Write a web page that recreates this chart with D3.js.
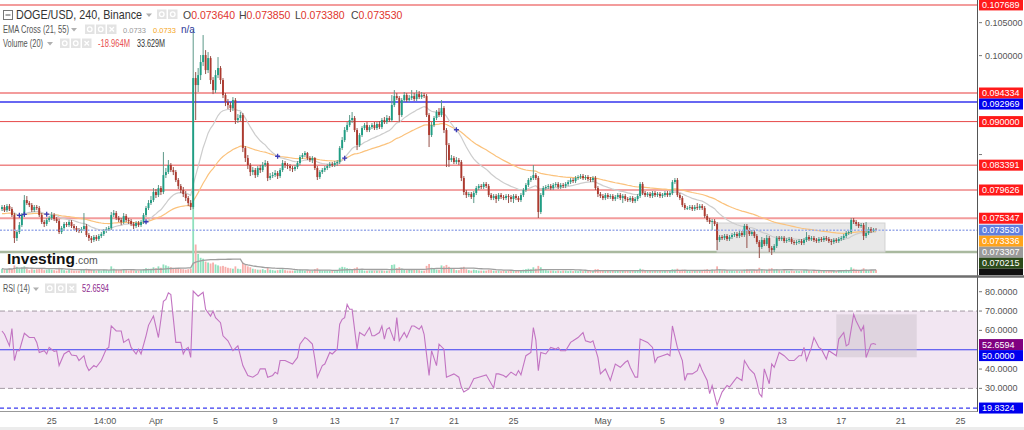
<!DOCTYPE html>
<html><head><meta charset="utf-8">
<script src="https://cdn.jsdelivr.net/npm/d3@7"></script>
<style>
html,body{margin:0;padding:0;background:#fff;}
svg{display:block;font-family:"Liberation Sans",Arial,sans-serif;}
</style></head>
<body><svg id="chart" width="1024" height="430"></svg>
<script>
// ---------------- DATA (DOGE/USD 4h, Binance) ----------------
const candleStart = Date.UTC(2023, 2, 21, 16); // first candle
const candleHours = 4;
const opens = [
.07674,.07704,.07659,.07719,.07674,.07583,.07234,.07325,.07431,.07583,
.07810,.07765,.07735,.07659,.07704,.07689,.07583,.07477,.07447,.07507,
.07538,.07583,.07522,.07492,.07325,.07386,.07447,.07431,.07477,.07416,
.07386,.07356,.07341,.07371,.07416,.07280,.07234,.07204,.07250,.07219,
.07265,.07295,.07341,.07371,.07386,.07583,.07613,.07538,.07507,.07477,
.07568,.07507,.07492,.07447,.07416,.07462,.07431,.07477,.07583,.07689,
.07765,.07810,.07932,.07886,.07992,.07932,.08189,.08235,.08341,.08265,
.08235,.08114,.08023,.07962,.07901,.07841,.07765,.07704,.09660,.09554,
.09705,.09903,.10009,.09781,.09963,.09630,.09478,.09705,.09812,.09630,
.09402,.09296,.09251,.09205,.09326,.09023,.09054,.09099,.08599,.08447,
.08341,.08235,.08265,.08189,.08296,.08265,.08341,.08371,.08144,.08174,
.08189,.08220,.08174,.08265,.08371,.08341,.08326,.08296,.08280,.08311,
.08371,.08462,.08493,.08523,.08447,.08417,.08447,.08296,.08159,.08235,
.08265,.08296,.08326,.08356,.08341,.08371,.08387,.08599,.08720,.08872,
.08947,.09023,.09054,.08872,.08644,.08796,.08902,.08947,.08872,.08917,
.08947,.08902,.08963,.08917,.09023,.08993,.09054,.09023,.09251,.09387,
.09357,.09099,.09326,.09402,.09326,.09357,.09387,.09342,.09417,.09372,
.09402,.09387,.09099,.08796,.08947,.09054,.09145,.09099,.09205,.08872,
.08644,.08417,.08447,.08387,.08417,.08387,.08144,.07932,.07886,.07901,
.07856,.07917,.07992,.08023,.08008,.08053,.08023,.07886,.07841,.07871,
.07826,.07886,.07856,.07841,.07871,.07856,.07826,.07871,.07841,.07810,
.07886,.07962,.08038,.08114,.08144,.08189,.08144,.07629,.07886,.07992,
.08008,.08023,.07992,.08038,.08053,.08008,.08038,.08023,.08053,.08083,
.08114,.08098,.08144,.08159,.08174,.08144,.08159,.08129,.08114,.08144,
.07992,.07901,.07871,.07841,.07886,.07856,.07871,.07826,.07856,.07886,
.07841,.07871,.07826,.07810,.07841,.07795,.07826,.07871,.08053,.07917,
.07886,.07901,.07871,.07917,.07886,.07901,.07871,.07886,.07917,.07886,
.07917,.08083,.08114,.07886,.07841,.07735,.07689,.07689,.07704,.07674,
.07704,.07689,.07719,.07689,.07568,.07507,.07477,.07492,.07447,.07204,
.07250,.07234,.07265,.07219,.07250,.07280,.07295,.07265,.07310,.07280,
.07416,.07356,.07295,.07325,.07265,.07174,.07098,.07204,.07143,.07234,
.07083,.07052,.07113,.07234,.07219,.07234,.07189,.07204,.07219,.07174,
.07159,.07174,.07189,.07159,.07204,.07250,.07219,.07234,.07204,.07189,
.07219,.07204,.07234,.07219,.07189,.07174,.07204,.07189,.07219,.07234,
.07265,.07310,.07325,.07507,.07477,.07447,.07416,.07431,.07265,.07310,
.07371,.07341,.07364];
const highs = [
.07735,.07735,.07750,.07750,.07704,.07613,.07356,.07477,.07613,.07886,
.07871,.07795,.07765,.07735,.07735,.07719,.07613,.07507,.07538,.07568,
.07629,.07613,.07553,.07522,.07416,.07477,.07477,.07507,.07507,.07447,
.07416,.07386,.07401,.07613,.07447,.07310,.07265,.07280,.07280,.07295,
.07325,.07371,.07401,.07416,.07629,.07659,.07644,.07568,.07538,.07613,
.07598,.07538,.07522,.07477,.07492,.07492,.07507,.07613,.07719,.07810,
.07871,.07992,.07977,.08038,.08023,.08538,.08296,.08417,.08371,.08311,
.08265,.08144,.08053,.08008,.07947,.07871,.07810,.10388,.09751,.09812,
.10009,.10312,.10084,.10054,.09993,.09675,.09781,.09978,.09842,.09660,
.09433,.09342,.09296,.09372,.09357,.09114,.09145,.09129,.08629,.08493,
.08371,.08311,.08296,.08326,.08341,.08387,.08417,.08402,.08220,.08235,
.08265,.08250,.08296,.08417,.08402,.08371,.08356,.08326,.08341,.08402,
.08493,.08523,.08553,.08538,.08477,.08477,.08462,.08326,.08265,.08296,
.08326,.08356,.08387,.08387,.08402,.08417,.08629,.08766,.08917,.08993,
.09099,.09145,.09084,.08902,.08826,.08932,.08978,.08993,.08947,.08978,
.08993,.08993,.09008,.09054,.09069,.09099,.09084,.09402,.09478,.09433,
.09387,.09357,.09448,.09433,.09402,.09478,.09433,.09478,.09463,.09448,
.09433,.09417,.09129,.08993,.09084,.09175,.09205,.09326,.09235,.08902,
.08675,.08493,.08477,.08462,.08447,.08417,.08174,.07962,.07932,.07932,
.07947,.08023,.08053,.08053,.08083,.08083,.08053,.07917,.07901,.07901,
.07917,.07917,.07886,.07901,.07901,.07886,.07901,.07901,.07871,.07917,
.07992,.08068,.08144,.08174,.08341,.08220,.08174,.07917,.08023,.08038,
.08053,.08053,.08068,.08083,.08083,.08068,.08068,.08083,.08114,.08144,
.08144,.08174,.08189,.08205,.08205,.08189,.08189,.08159,.08174,.08174,
.08023,.07932,.07901,.07917,.07917,.07901,.07901,.07886,.07917,.07917,
.07901,.07901,.07856,.07871,.07871,.07856,.07901,.08083,.08083,.07947,
.07932,.07932,.07947,.07947,.07932,.07932,.07917,.07947,.07947,.07947,
.08114,.08144,.08144,.07917,.07871,.07765,.07719,.07735,.07735,.07735,
.07765,.07750,.07750,.07719,.07598,.07538,.07522,.07522,.07477,.07280,
.07280,.07295,.07295,.07280,.07310,.07325,.07325,.07341,.07341,.07447,
.07447,.07386,.07356,.07356,.07295,.07204,.07250,.07234,.07280,.07265,
.07113,.07143,.07265,.07265,.07265,.07265,.07234,.07250,.07250,.07204,
.07204,.07219,.07219,.07234,.07325,.07280,.07265,.07265,.07234,.07250,
.07250,.07265,.07265,.07250,.07219,.07234,.07234,.07250,.07265,.07295,
.07341,.07356,.07538,.07538,.07507,.07477,.07462,.07462,.07477,.07401,
.07401,.07386,.07385];
const lows = [
.07644,.07629,.07629,.07644,.07553,.07159,.07189,.07295,.07401,.07553,
.07735,.07704,.07629,.07629,.07659,.07553,.07447,.07401,.07416,.07477,
.07507,.07492,.07462,.07295,.07295,.07356,.07401,.07401,.07386,.07356,
.07325,.07310,.07310,.07341,.07250,.07189,.07159,.07174,.07189,.07189,
.07234,.07265,.07310,.07341,.07356,.07553,.07507,.07477,.07431,.07447,
.07477,.07447,.07416,.07371,.07386,.07401,.07401,.07447,.07553,.07659,
.07735,.07780,.07841,.07856,.07886,.07901,.08144,.08205,.08235,.08189,
.08083,.07977,.07917,.07856,.07795,.07719,.07659,.07674,.09023,.09448,
.09630,.09842,.09721,.09736,.09569,.09417,.09433,.09660,.09569,.09357,
.09235,.09190,.09145,.09160,.08963,.08978,.09008,.08538,.08387,.08280,
.08174,.08189,.08144,.08159,.08220,.08235,.08311,.08098,.08114,.08144,
.08159,.08129,.08144,.08235,.08296,.08280,.08250,.08235,.08250,.08280,
.08341,.08432,.08462,.08417,.08387,.08371,.08265,.08114,.08129,.08205,
.08235,.08265,.08296,.08311,.08311,.08326,.08356,.08568,.08690,.08841,
.08917,.08978,.08841,.08568,.08614,.08766,.08872,.08841,.08841,.08887,
.08872,.08872,.08887,.08887,.08963,.08963,.08993,.08993,.09220,.09326,
.08993,.09069,.09296,.09296,.09296,.09326,.09311,.09311,.09342,.09342,
.09357,.09069,.08614,.08766,.08917,.09023,.09069,.09069,.08826,.08311,
.08311,.08387,.08356,.08356,.08341,.08098,.07886,.07841,.07856,.07826,
.07765,.07886,.07962,.07977,.07977,.07992,.07856,.07810,.07810,.07765,
.07795,.07826,.07810,.07810,.07765,.07780,.07765,.07810,.07780,.07780,
.07856,.07932,.08008,.08083,.08114,.08114,.07538,.07598,.07856,.07962,
.07977,.07962,.07962,.08008,.07977,.07977,.07992,.07992,.08023,.08053,
.08068,.08068,.08114,.08129,.08114,.08114,.08098,.08083,.08083,.07962,
.07856,.07841,.07810,.07810,.07826,.07826,.07795,.07795,.07826,.07810,
.07765,.07795,.07780,.07780,.07765,.07765,.07795,.07841,.07886,.07856,
.07856,.07841,.07841,.07856,.07856,.07841,.07841,.07856,.07856,.07856,
.07886,.08053,.07856,.07810,.07704,.07659,.07659,.07659,.07644,.07644,
.07659,.07659,.07659,.07538,.07477,.07447,.07356,.07416,.07052,.07174,
.07204,.07204,.07189,.07189,.07219,.07250,.07234,.07234,.07250,.07250,
.07083,.07265,.07265,.07234,.07143,.06931,.07068,.07113,.07113,.07022,
.06977,.07022,.07083,.07189,.07189,.07159,.07159,.07174,.07143,.07128,
.07128,.07143,.07128,.07128,.07174,.07189,.07189,.07174,.07159,.07159,
.07174,.07174,.07189,.07159,.07128,.07143,.07159,.07159,.07189,.07204,
.07234,.07280,.07295,.07447,.07416,.07386,.07386,.07204,.07234,.07280,
.07310,.07325,.07338];
const closes = [
.07704,.07659,.07719,.07674,.07583,.07234,.07325,.07431,.07583,.07810,
.07765,.07735,.07659,.07704,.07689,.07583,.07477,.07447,.07507,.07538,
.07583,.07522,.07492,.07325,.07386,.07447,.07431,.07477,.07416,.07386,
.07356,.07341,.07371,.07416,.07280,.07234,.07204,.07250,.07219,.07265,
.07295,.07341,.07371,.07386,.07583,.07613,.07538,.07507,.07477,.07568,
.07507,.07492,.07447,.07416,.07462,.07431,.07477,.07583,.07689,.07765,
.07810,.07932,.07886,.07992,.07932,.08189,.08235,.08341,.08265,.08235,
.08114,.08023,.07962,.07901,.07841,.07765,.07704,.09660,.09554,.09705,
.09903,.10009,.09781,.09963,.09630,.09478,.09705,.09812,.09630,.09402,
.09296,.09251,.09205,.09326,.09023,.09054,.09099,.08599,.08447,.08341,
.08235,.08265,.08189,.08296,.08265,.08341,.08371,.08144,.08174,.08189,
.08220,.08174,.08265,.08371,.08341,.08326,.08296,.08280,.08311,.08371,
.08462,.08493,.08523,.08447,.08417,.08447,.08296,.08159,.08235,.08265,
.08296,.08326,.08356,.08341,.08371,.08387,.08599,.08720,.08872,.08947,
.09023,.09054,.08872,.08644,.08796,.08902,.08947,.08872,.08917,.08947,
.08902,.08963,.08917,.09023,.08993,.09054,.09023,.09251,.09387,.09357,
.09099,.09326,.09402,.09326,.09357,.09387,.09342,.09417,.09372,.09402,
.09387,.09099,.08796,.08947,.09054,.09145,.09099,.09205,.08872,.08644,
.08417,.08447,.08387,.08417,.08387,.08144,.07932,.07886,.07901,.07856,
.07917,.07992,.08023,.08008,.08053,.08023,.07886,.07841,.07871,.07826,
.07886,.07856,.07841,.07871,.07856,.07826,.07871,.07841,.07810,.07886,
.07962,.08038,.08114,.08144,.08189,.08144,.07629,.07886,.07992,.08008,
.08023,.07992,.08038,.08053,.08008,.08038,.08023,.08053,.08083,.08114,
.08098,.08144,.08159,.08174,.08144,.08159,.08129,.08114,.08144,.07992,
.07901,.07871,.07841,.07886,.07856,.07871,.07826,.07856,.07886,.07841,
.07871,.07826,.07810,.07841,.07795,.07826,.07871,.08053,.07917,.07886,
.07901,.07871,.07917,.07886,.07901,.07871,.07886,.07917,.07886,.07917,
.08083,.08114,.07886,.07841,.07735,.07689,.07689,.07704,.07674,.07704,
.07689,.07719,.07689,.07568,.07507,.07477,.07492,.07447,.07204,.07250,
.07234,.07265,.07219,.07250,.07280,.07295,.07265,.07310,.07280,.07416,
.07356,.07295,.07325,.07265,.07174,.07098,.07204,.07143,.07234,.07083,
.07052,.07113,.07234,.07219,.07234,.07189,.07204,.07219,.07174,.07159,
.07174,.07189,.07159,.07204,.07250,.07219,.07234,.07204,.07189,.07219,
.07204,.07234,.07219,.07189,.07174,.07204,.07189,.07219,.07234,.07265,
.07310,.07325,.07507,.07477,.07447,.07416,.07431,.07265,.07310,.07371,
.07341,.07364,.07353];
const volumesM = [
45,35,40,50,40,80,65,50,60,70, 45,30,40,35,40,50,45,30,35,40,
35,30,25,55,40,30,25,35,30,25, 25,25,30,40,45,35,35,30,25,30,
25,35,30,25,70,45,35,30,35,40, 30,25,30,25,25,25,30,40,50,45,
45,60,50,70,55,90,80,70,60,50, 55,50,45,40,35,40,45,1000,300,200,
160,150,120,110,100,110,90,80,70,75, 65,55,50,45,70,45,40,110,90,70,
60,45,40,35,35,40,30,55,35,30, 25,30,35,40,30,25,25,25,25,30,
35,30,25,25,25,25,40,50,30,25, 25,25,25,25,20,25,55,65,60,50,
45,40,50,60,40,30,25,25,25,25, 25,25,25,25,25,25,25,85,90,50,
60,45,40,30,35,30,40,35,30,25, 25,75,95,55,45,35,35,80,70,85,
65,45,40,30,30,55,65,40,30,25, 35,30,25,25,25,25,35,30,25,25,
25,20,25,20,25,20,25,20,25,25, 35,40,45,40,60,45,75,60,40,30,
25,25,25,20,25,20,25,25,20,25, 20,25,20,25,20,25,20,25,20,40,
40,30,25,20,25,20,25,20,25,20, 25,20,25,20,25,20,30,45,35,25,
20,25,20,25,20,25,20,25,20,25, 40,35,45,30,35,30,25,20,25,20,
25,20,25,35,40,30,35,30,70,40, 30,25,30,25,25,20,25,20,25,35,
40,30,25,30,35,55,40,30,35,45, 50,35,40,30,25,30,25,20,25,20,
25,20,25,30,30,25,20,25,20,25, 20,25,20,25,20,25,20,25,30,30,
35,30,60,45,35,30,30,50,35,30, 30,25,33.6];
// RSI(14): [candle index, value]
const rsiPoints = [
[0,59.7],[1,58],[3,52],[4,61],[5,44.4],[6,49.5],[7,49.5],[9,58.5],[11,56.3],[13,56.3],
[14,53.8],[15,48.6],[17,49.5],[18,47.8],[19,51.2],[21,49.1],[22,49.5],[23,41.8],[25,47.8],[27,49.5],
[28,47.3],[30,46.9],[31,44.4],[33,46.9],[34,41.8],[35,39.2],[37,41.8],[38,41],[40,44.4],[42,50.3],
[43,51.2],[44,62.3],[46,59.7],[48,59.7],[49,53.8],[51,55.5],[52,51.2],[54,47.8],[55,50.3],[56,47.8],
[58,57.2],[59,62.6],[61,67.4],[63,56.3],[65,75.1],[66,76],[67,79.4],[68,78.5],[70,53.8],[72,53.8],
[73,47.8],[74,50.3],[75,51.2],[76,46],[77,80.3],[79,77.7],[81,79.7],[82,70.9],[84,67.4],[85,70],
[86,66.6],[88,64],[89,57.2],[91,54.6],[93,49.5],[95,52],[97,41.8],[99,36.7],[101,35.8],[103,37.5],
[104,40.1],[106,40.1],[107,35.8],[109,36.7],[110,38.4],[111,37.5],[112,44.4],[114,44.4],[117,42.6],[119,46],
[120,52.9],[122,56.3],[123,55.5],[125,52.9],[126,45.2],[127,35.8],[129,41.8],[130,42.6],[132,48.6],[133,47.8],
[135,50.3],[136,63.2],[137,65.7],[138,66.6],[139,73.4],[140,70.9],[141,70.9],[143,50.3],[144,58.9],[146,57.2],
[148,61.5],[149,57.2],[150,57.2],[152,58.9],[153,62.3],[154,55.5],[155,60.6],[156,61.5],[158,54.6],[159,66.6],
[160,54.6],[162,58.9],[163,56.3],[165,62.3],[166,62.3],[168,60.6],[169,62.3],[170,58],[172,36.7],[173,49.5],
[175,41.8],[176,52.9],[178,50.3],[179,35.8],[182,37.5],[184,35.8],[185,30.7],[186,28.1],[188,29.7],[190,35],
[192,35.8],[195,37],[198,30.2],[199,37.5],[200,37.5],[202,36.7],[203,35.8],[205,38.4],[207,36.7],[208,39.2],
[209,37],[211,46.9],[213,48.6],[214,61.5],[215,55],[216,39.2],[217,48.6],[219,47.8],[221,51.2],[223,50.3],
[224,51.2],[225,49.5],[227,49.5],[229,53.8],[230,54.6],[232,56.3],[234,58.9],[235,54.6],[237,53.8],[238,54.6],
[240,46],[241,37.5],[243,40],[245,34.1],[247,42.6],[249,40.9],[251,43.5],[252,44.4],[253,40.9],[255,35.8],
[256,35.8],[257,55.5],[260,53.8],[262,51.2],[263,43.5],[264,46],[266,46.9],[268,47.8],[269,46.9],[270,62.3],
[272,51.2],[274,44.4],[275,34.1],[276,37.5],[278,37.5],[280,39.2],[281,42.6],[282,39.2],[284,34.1],[285,27.3],
[286,31.5],[288,21.3],[290,28.1],[292,31.5],[293,30.7],[295,34.1],[296,35.8],[298,34.1],[299,44.4],[301,40.1],
[303,37.5],[304,33.2],[305,27.3],[306,25.6],[307,40.1],[309,32.4],[310,42.6],[311,40.9],[313,48.6],[315,46.9],
[317,44.4],[319,44.4],[321,46.9],[322,46.9],[323,51.2],[324,44.4],[326,51.2],[327,56.3],[329,51.2],[330,50.3],
[332,45.2],[333,49.5],[335,47.8],[336,46.9],[337,55.5],[339,58.9],[340,52],[341,52.9],[343,68.3],[344,64.9],
[346,59.7],[347,62.3],[348,46],[350,52.9],[351,53.2],[352,52.66]];

const priceLevels = [0.107689, 0.094334, 0.092969, 0.090000, 0.083391, 0.079626, 0.075347, 0.070215];
const levelKinds  = ["soft", "soft", "blue", "red", "red", "red", "soft", "green"];
const lastPrice = 0.073530;
const emaLastValues = [0.073307, 0.073336]; // EMA21, EMA55 as shown
const emaSeeds = [0.0765, 0.0760];
const priceTicks = [0.105, 0.100, 0.095, 0.090, 0.085, 0.080, 0.075];
const rsiTicks = [80, 70, 60, 40, 30];
const rsiBandLevels = [70, 30];
const rsiMid = 50;
const rsiLast = 52.6594;
const rsiLowLevel = 19.8324;
const xTickTimes = [Date.UTC(2023,2,25), Date.UTC(2023,2,28,14), Date.UTC(2023,3,1), Date.UTC(2023,3,5),
  Date.UTC(2023,3,9), Date.UTC(2023,3,13), Date.UTC(2023,3,17), Date.UTC(2023,3,21), Date.UTC(2023,3,25),
  Date.UTC(2023,4,1), Date.UTC(2023,4,5), Date.UTC(2023,4,9), Date.UTC(2023,4,13), Date.UTC(2023,4,17),
  Date.UTC(2023,4,21), Date.UTC(2023,4,25)];
const xTickLabels = ["25","14:00","Apr","5","9","13","17","21","25","May","5","9","13","17","21","25"];
const priceBox = {from: 288, to: 355.6, top: 0.07462, bottom: 0.07022};
const rsiBox = {from: 336, to: 368.4, top: 68.3, bottom: 46.1};
const header = {symbol: "DOGE/USD, 240, Binance", o: "0.073640", h: "0.073850", l: "0.073380", c: "0.073530",
  ema: "EMA Cross (21, 55)", emaA: "0.0733", emaB: "0.0733", emaC: "n/a",
  vol: "Volume (20)", volA: "-18.964M", volB: "33.629M", rsi: "RSI (14)", rsiV: "52.6594"};

// ---------------- LAYOUT ----------------
const svg = d3.select("#chart");
const AX = 977;
const narrow = "'Liberation Sans Narrow','Arial Narrow','Liberation Sans',sans-serif";
const candleTime = i => new Date(candleStart + i * candleHours * 3600e3);
const x = d3.scaleTime().domain([new Date(candleStart), new Date(Date.UTC(2023,4,25))]).range([2, 2 + 386 * 2.483]);
const y = d3.scaleLinear().domain([0.066586, 0.108436]).range([276, 0]);
const yR = d3.scaleLinear().domain([18.3, 87.1]).range([411, 278]);
const yV = d3.scaleLinear().domain([0, 1000]).range([273, 178]);
const xi = i => x(candleTime(i));

const defs = svg.append("defs");
defs.append("clipPath").attr("id","cMain").append("rect").attr("x",0).attr("y",0).attr("width",AX).attr("height",275);
defs.append("clipPath").attr("id","cRsi").append("rect").attr("x",0).attr("y",279).attr("width",AX).attr("height",132);

const main = svg.append("g").attr("clip-path","url(#cMain)");

// price levels
const levelStyle = {soft:{c:"#f39c9c",w:2}, blue:{c:"#3434ee",w:1.4}, red:{c:"#e64848",w:1}, green:{c:"#a9b99f",w:2.5}};
main.selectAll("line.lvl").data(priceLevels).join("line")
  .attr("x1",0).attr("x2",AX).attr("y1",d=>y(d)).attr("y2",d=>y(d))
  .attr("stroke",(d,i)=>levelStyle[levelKinds[i]].c).attr("stroke-width",(d,i)=>levelStyle[levelKinds[i]].w);

// grey box
main.append("rect").attr("x",xi(priceBox.from)).attr("width",xi(priceBox.to)-xi(priceBox.from))
  .attr("y",y(priceBox.top)).attr("height",y(priceBox.bottom)-y(priceBox.top))
  .attr("fill","#e2e2e2").attr("fill-opacity",0.8).attr("stroke","#d2d2d2");

// volume
const idx = d3.range(closes.length);
main.selectAll("rect.vol").data(idx).join("rect")
  .attr("x",i=>xi(i)-0.9).attr("width",1.8)
  .attr("y",i=>yV(volumesM[i])).attr("height",i=>yV(0)-yV(volumesM[i]))
  .attr("fill",i=>closes[i]>=opens[i]?"#8fe0bd":"#f7aeab");
const volMA = idx.map(i=>d3.mean(volumesM.slice(Math.max(0,i-19),i+1)));
main.append("path").attr("d",d3.line().x(i=>xi(i)).y(i=>yV(volMA[i]))(idx))
  .attr("fill","none").attr("stroke","#a0a0a0").attr("stroke-width",1.3);

// EMAs
function ema(vals,n,seed){const k=2/(n+1);let e=seed;return vals.map(v=>(e=v*k+e*(1-k)));}
const e21 = ema(closes,21,emaSeeds[0]), e55 = ema(closes,55,emaSeeds[1]);
main.append("path").attr("d",d3.line().x(i=>xi(i)).y(i=>y(e55[i]))(idx)).attr("fill","none").attr("stroke","#fbc27c").attr("stroke-width",1.2);
main.append("path").attr("d",d3.line().x(i=>xi(i)).y(i=>y(e21[i]))(idx)).attr("fill","none").attr("stroke","#cdcdcd").attr("stroke-width",1.2);

// candles
const up = i => closes[i] >= opens[i];
main.selectAll("line.wick").data(idx).join("line")
  .attr("x1",i=>xi(i)).attr("x2",i=>xi(i)).attr("y1",i=>y(highs[i])).attr("y2",i=>y(lows[i]))
  .attr("stroke",i=>up(i)?"#5c9888":"#955049").attr("stroke-width",1);
main.selectAll("rect.body").data(idx).join("rect")
  .attr("x",i=>xi(i)-0.95).attr("width",1.9)
  .attr("y",i=>y(Math.max(opens[i],closes[i])))
  .attr("height",i=>Math.max(0.9,Math.abs(y(opens[i])-y(closes[i]))))
  .attr("fill",i=>up(i)?"#1f9e84":"#ad3a2f");

// EMA cross markers
const crosses = idx.filter(i=>i>0 && Math.sign(e21[i]-e55[i])!==Math.sign(e21[i-1]-e55[i-1]));
crosses.forEach(i=>{
  const cx=xi(i), cy=y((e21[i]+e55[i])/2);
  main.append("path").attr("d",`M${cx-2.5},${cy}H${cx+2.5}M${cx},${cy-2.5}V${cy+2.5}`).attr("stroke","#3a3ab8").attr("stroke-width",1.3);
});

// current price dotted line
main.append("line").attr("x1",0).attr("x2",AX).attr("y1",y(lastPrice)).attr("y2",y(lastPrice))
  .attr("stroke","#9cacea").attr("stroke-width",1.6).attr("stroke-dasharray","2,1.5");

// logo
const logo = svg.append("text").attr("x",7).attr("y",264);
logo.append("tspan").text("Investing").attr("font-weight","bold").attr("font-size",15.5).attr("fill","#111");
logo.append("tspan").text(".com").attr("font-size",10.5).attr("fill","#555");

// ---------------- HEADERS ----------------
function tri(g,x0,y0){g.append("path").attr("d",`M${x0},${y0}l6,0l-3,3.5z`).attr("fill","#b0b0b0");}
function icon(g,x0,y0,kind){
  g.append("rect").attr("x",x0).attr("y",y0).attr("width",9.5).attr("height",9.5).attr("fill","#e3e3e3");
  if(kind==="x") g.append("path").attr("d",`M${x0+2.5},${y0+2.5}l4.5,4.5M${x0+7},${y0+2.5}l-4.5,4.5`).attr("stroke","#fff").attr("stroke-width",1.3);
  else g.append("circle").attr("cx",x0+4.75).attr("cy",y0+4.75).attr("r",2.3).attr("fill","none").attr("stroke","#fff").attr("stroke-width",1.3);
}
const hd = svg.append("g");
hd.append("rect").attr("x",3.5).attr("y",10.5).attr("width",9).attr("height",9).attr("fill","#fff").attr("stroke","#777");
hd.append("line").attr("x1",5.5).attr("x2",10.5).attr("y1",15).attr("y2",15).attr("stroke","#555");
hd.append("text").attr("x",16).attr("y",19).attr("font-size",13.5).attr("fill","#333").attr("textLength",126).attr("lengthAdjust","spacingAndGlyphs").text(header.symbol);
tri(hd,146,13.5); icon(hd,157,9.5,"o"); icon(hd,168,9.5,"o");
[["O",header.o],["H",header.h],["L",header.l],["C",header.c]].forEach((p,k)=>{
  const t = hd.append("text").attr("x",183 + k*56).attr("y",19).attr("font-size",10.5);
  t.append("tspan").attr("fill","#444").text(p[0]);
  t.append("tspan").attr("fill","#e0342c").text(p[1]);
});
const L2 = 32.5, L3 = 46.5;
hd.append("text").attr("x",3).attr("y",L2).attr("font-size",10).attr("fill","#555").attr("textLength",66).attr("lengthAdjust","spacingAndGlyphs").text(header.ema);
tri(hd,71,L2-4.5); icon(hd,85,L2-8,"o"); icon(hd,96,L2-8,"o"); icon(hd,107,L2-8,"x");
hd.append("text").attr("x",123).attr("y",L2).attr("font-size",7.5).attr("fill","#999").text(header.emaA);
hd.append("text").attr("x",153).attr("y",L2).attr("font-size",7.5).attr("fill","#f5a623").text(header.emaB);
hd.append("text").attr("x",181).attr("y",L2).attr("font-size",10).attr("fill","#2e3a99").text(header.emaC);
hd.append("text").attr("x",3).attr("y",L3).attr("font-size",10).attr("fill","#555").attr("textLength",40).attr("lengthAdjust","spacingAndGlyphs").text(header.vol);
tri(hd,47,L3-4.5); icon(hd,60,L3-8,"o"); icon(hd,71,L3-8,"o"); icon(hd,82,L3-8,"x");
hd.append("text").attr("x",98).attr("y",L3).attr("font-size",10).attr("fill","#e85050").attr("textLength",32).attr("lengthAdjust","spacingAndGlyphs").text(header.volA);
hd.append("text").attr("x",137).attr("y",L3).attr("font-size",10).attr("fill","#333").attr("textLength",28).attr("lengthAdjust","spacingAndGlyphs").text(header.volB);

// ---------------- RSI PANE ----------------
const rp = svg.append("g").attr("clip-path","url(#cRsi)");
rp.append("rect").attr("x",0).attr("width",AX).attr("y",yR(rsiBandLevels[0])).attr("height",yR(rsiBandLevels[1])-yR(rsiBandLevels[0])).attr("fill","#f2e6f2");
rp.selectAll("line.band").data(rsiBandLevels).join("line").attr("x1",0).attr("x2",AX).attr("y1",d=>yR(d)).attr("y2",d=>yR(d))
  .attr("stroke","#a49aa4").attr("stroke-dasharray","5,3");
rp.append("line").attr("x1",0).attr("x2",AX).attr("y1",yR(rsiMid)).attr("y2",yR(rsiMid)).attr("stroke","#3b3bf0").attr("stroke-width",1.1);
rp.append("line").attr("x1",0).attr("x2",AX).attr("y1",yR(rsiLowLevel)).attr("y2",yR(rsiLowLevel)).attr("stroke","#3b3bf0").attr("stroke-width",1.2).attr("stroke-dasharray","4,3");
rp.append("rect").attr("x",xi(rsiBox.from)).attr("width",xi(rsiBox.to)-xi(rsiBox.from)).attr("y",yR(rsiBox.top)).attr("height",yR(rsiBox.bottom)-yR(rsiBox.top))
  .attr("fill","#cfc4cf").attr("fill-opacity",0.55);
rp.append("path").attr("d",d3.line().x(p=>xi(p[0])).y(p=>yR(p[1]))(rsiPoints)).attr("fill","none").attr("stroke","#c274c2").attr("stroke-width",1.1);

const rh = svg.append("g");
rh.append("text").attr("x",3).attr("y",292).attr("font-size",10.5).attr("fill","#555").attr("textLength",27).attr("lengthAdjust","spacingAndGlyphs").text(header.rsi);
tri(rh,33,287.5); icon(rh,45,283.5,"o"); icon(rh,56,283.5,"o"); icon(rh,67,283.5,"x");
rh.append("text").attr("x",82).attr("y",292).attr("font-size",10.5).attr("fill","#8e2a8e").attr("textLength",27).attr("lengthAdjust","spacingAndGlyphs").text(header.rsiV);

// ---------------- AXES & LABELS ----------------
function stack(items,h){items.sort((a,b)=>a.y-b.y);for(let k=1;k<items.length;k++){if(items[k].y<items[k-1].y+h)items[k].y=items[k-1].y+h;}return items;}
const kindFill = {soft:"#ff1a1a", red:"#ff1a1a", blue:"#0000ee", green:"#2c4b1a"};
let mainLabels = priceLevels.map((v,i)=>({y:y(v),t:v.toFixed(6),f:kindFill[levelKinds[i]]}));
mainLabels.push({y:y(lastPrice)-0.01,t:lastPrice.toFixed(6),f:"#5f7fe0"});
mainLabels.push({y:y(emaLastValues[1]),t:emaLastValues[1].toFixed(6),f:"#ffa31a"});
mainLabels.push({y:y(emaLastValues[0])+0.01,t:emaLastValues[0].toFixed(6),f:"#9a9a9a"});
stack(mainLabels,11);
let rsiLabels = stack([{y:yR(rsiLast),t:rsiLast.toFixed(4),f:"#800080"},{y:yR(rsiMid),t:rsiMid.toFixed(4),f:"#0000ee"},{y:yR(rsiLowLevel),t:rsiLowLevel.toFixed(4),f:"#0000ee"}],11);
const free = (yy, labs) => labs.every(l => Math.abs(l.y - yy) > 11);

svg.append("line").attr("x1",AX+0.5).attr("x2",AX+0.5).attr("y1",0).attr("y2",412).attr("stroke","#555");
svg.append("line").attr("x1",0).attr("x2",AX+0.5).attr("y1",411.5).attr("y2",411.5).attr("stroke","#999");
const ax = svg.append("g").attr("font-family",narrow).attr("font-size",9).attr("fill","#555");
priceTicks.forEach(t=>{
  ax.append("line").attr("x1",AX+2).attr("x2",AX+5).attr("y1",y(t)).attr("y2",y(t)).attr("stroke","#777");
  if(free(y(t),mainLabels)) ax.append("text").attr("x",AX+8).attr("y",y(t)+3).text(t.toFixed(6));
});
rsiTicks.forEach(t=>{
  ax.append("line").attr("x1",AX+2).attr("x2",AX+5).attr("y1",yR(t)).attr("y2",yR(t)).attr("stroke","#777");
  if(free(yR(t),rsiLabels)) ax.append("text").attr("x",AX+8).attr("y",yR(t)+3).text(t.toFixed(4));
});
xTickTimes.forEach((t,k)=>{
  ax.append("text").attr("x",x(new Date(t))).attr("y",424).attr("text-anchor","middle").text(xTickLabels[k]);
});
svg.append("rect").attr("x",0).attr("y",427).attr("width",1024).attr("height",3).attr("fill","#ececec");

const lb = svg.append("g").attr("font-family",narrow).attr("font-size",9);
mainLabels.forEach(d=>{
  lb.append("rect").attr("x",979).attr("y",d.y-5.5).attr("width",44).attr("height",11).attr("fill",d.f);
  lb.append("text").attr("x",982).attr("y",d.y+3.2).attr("fill","#fff").text(d.t);
});
// partly hidden volume value tag under the pane separator
const volTagY = mainLabels[mainLabels.length-1].y + 11;
lb.append("rect").attr("x",979).attr("y",volTagY-5.5).attr("width",44).attr("height",275-(volTagY-5.5)).attr("fill","#111");
rsiLabels.forEach(d=>{
  lb.append("rect").attr("x",979).attr("y",d.y-5.5).attr("width",44).attr("height",11).attr("fill",d.f);
  lb.append("text").attr("x",982).attr("y",d.y+3.2).attr("fill","#fff").text(d.t);
});
svg.append("line").attr("x1",0).attr("x2",1024).attr("y1",276.5).attr("y2",276.5).attr("stroke","#6e6e6e").attr("stroke-width",2.5);
</script></body></html>
